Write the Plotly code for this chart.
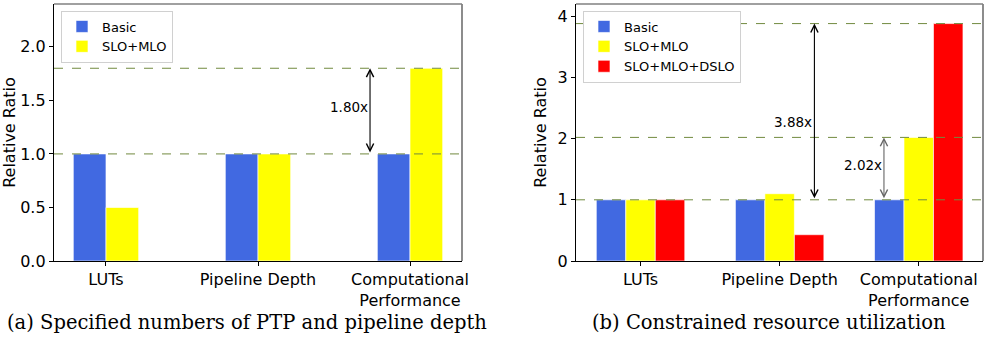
import plotly.graph_objects as go

# ---------------- data ----------------
categories = ["LUTs", "Pipeline Depth", "Computational<br>Performance"]

a_basic = [1.0, 1.0, 1.0]
a_slo_mlo = [0.5, 1.0, 1.8]

b_basic = [1.0, 1.0, 1.0]
b_slo_mlo = [1.0, 1.1, 2.02]
b_slo_mlo_dslo = [1.0, 0.43, 3.88]

a_ticks = [0.0, 0.5, 1.0, 1.5, 2.0]
b_ticks = [0, 1, 2, 3, 4]

caption_a = "(a) Specified numbers of PTP and pipeline depth"
caption_b = "(b) Constrained resource utilization"

# ---------------- style ----------------
BLUE = "#4169E1"
YELLOW = "#FFFF00"
RED = "#FF0000"
DASH = "#718a3f"
FONT = "DejaVu Sans"
edge = dict(color="rgba(255,255,255,0.8)", width=0.8)

fig = go.Figure()

wa = 0.215
fig.add_trace(go.Bar(x=categories, y=a_basic, name="Basic", marker=dict(color=BLUE, line=edge),
                     width=wa, offset=-wa, xaxis="x", yaxis="y", legend="legend"))
fig.add_trace(go.Bar(x=categories, y=a_slo_mlo, name="SLO+MLO", marker=dict(color=YELLOW, line=edge),
                     width=wa, offset=0, xaxis="x", yaxis="y", legend="legend"))

wb = 0.212
fig.add_trace(go.Bar(x=categories, y=b_basic, name="Basic", marker=dict(color=BLUE, line=edge),
                     width=wb, offset=-1.5 * wb, xaxis="x2", yaxis="y2", legend="legend2"))
fig.add_trace(go.Bar(x=categories, y=b_slo_mlo, name="SLO+MLO", marker=dict(color=YELLOW, line=edge),
                     width=wb, offset=-0.5 * wb, xaxis="x2", yaxis="y2", legend="legend2"))
fig.add_trace(go.Bar(x=categories, y=b_slo_mlo_dslo, name="SLO+MLO+DSLO", marker=dict(color=RED, line=edge),
                     width=wb, offset=0.5 * wb, xaxis="x2", yaxis="y2", legend="legend2"))

shapes = []
annotations = []

# dashed reference lines
for yv in [a_basic[2], a_slo_mlo[2]]:
    shapes.append(dict(type="line", xref="x domain", yref="y", x0=0, x1=1, y0=yv, y1=yv,
                       line=dict(color=DASH, width=1, dash="dash"), layer="above"))
for yv in [b_basic[2], b_slo_mlo[2], b_slo_mlo_dslo[2]]:
    shapes.append(dict(type="line", xref="x2 domain", yref="y2", x0=0, x1=1, y0=yv, y1=yv,
                       line=dict(color=DASH, width=1, dash="dash"), layer="above"))

# top/right spines (gray)
for xr, yr in [("x domain", "y domain"), ("x2 domain", "y2 domain")]:
    shapes.append(dict(type="line", xref=xr, yref=yr, x0=0, x1=1, y0=1, y1=1,
                       line=dict(color="#808080", width=1.5)))
    shapes.append(dict(type="line", xref=xr, yref=yr, x0=1, x1=1, y0=0, y1=1,
                       line=dict(color="#808080", width=1.8)))

# arrows
def arrow(xref, yref, x, y0, y1, color):
    return dict(xref=xref, yref=yref, axref=xref, ayref=yref, x=x, y=y1, ax=x, ay=y0,
                showarrow=True, arrowhead=5, startarrowhead=5, arrowside="end+start",
                arrowsize=1.3, startarrowsize=1.3, arrowwidth=1.1, arrowcolor=color,
                standoff=0, startstandoff=0, text="")

ann_font = dict(family=FONT, size=13.5, color="black")
annotations.append(arrow("x", "y", 1.737, a_basic[2], a_slo_mlo[2], "black"))
annotations.append(dict(xref="x", yref="y", x=1.737, y=1.44, text="1.80x", showarrow=False,
                        xanchor="right", yanchor="middle", font=ann_font))

annotations.append(arrow("x2", "y2", 1.25, b_basic[2], b_slo_mlo_dslo[2], "black"))
annotations.append(dict(xref="x2", yref="y2", x=1.25, y=2.27, text="3.88x", showarrow=False,
                        xanchor="right", yanchor="middle", font=ann_font))
annotations.append(arrow("x2", "y2", 1.75, b_basic[2], b_slo_mlo[2], "#666666"))
annotations.append(dict(xref="x2", yref="y2", x=1.75, y=1.57, text="2.02x", showarrow=False,
                        xanchor="right", yanchor="middle", font=ann_font))

# captions
cap_font = dict(family="DejaVu Serif", size=19.5, color="black")
annotations.append(dict(xref="paper", yref="paper", x=0.25, y=0.053, text=caption_a, showarrow=False,
                        xanchor="center", yanchor="middle", font=cap_font))
annotations.append(dict(xref="paper", yref="paper", x=0.779, y=0.053, text=caption_b, showarrow=False,
                        xanchor="center", yanchor="middle", font=cap_font))

ydom = [1 - 261 / 341, 1 - 4 / 341]
axis_common = dict(showline=True, linecolor="black", linewidth=1.3, ticks="outside", ticklen=4,
                   tickcolor="black", tickfont=dict(family=FONT, size=16, color="black"),
                   showgrid=False, zeroline=False, automargin=False)

legend_common = dict(bgcolor="white", bordercolor="#d0d0d0", borderwidth=1,
                     font=dict(family=FONT, size=13, color="black"),
                     xanchor="left", yanchor="top", tracegroupgap=0)

title_font = dict(family=FONT, size=16, color="black")

fig.update_layout(
    width=987, height=341,
    margin=dict(l=0, r=0, t=0, b=0),
    paper_bgcolor="white", plot_bgcolor="white",
    barmode="overlay",
    shapes=shapes, annotations=annotations,
    xaxis=dict(domain=[54 / 987, 462 / 987], range=[-0.342, 2.342], anchor="y", **axis_common),
    yaxis=dict(domain=ydom, range=[0, 2.4], tickvals=a_ticks, tickformat=".1f", anchor="x",
               title=dict(text="Relative Ratio", font=title_font, standoff=6),
               **axis_common),
    xaxis2=dict(domain=[576 / 987, 983 / 987], range=[-0.464, 2.462], anchor="y2", **axis_common),
    yaxis2=dict(domain=ydom, range=[0, 4.2], tickvals=b_ticks, anchor="x2",
                title=dict(text="Relative Ratio", font=title_font, standoff=6),
                **axis_common),
    legend=dict(x=61 / 987, y=1 - 10.5 / 341, **legend_common),
    legend2=dict(x=583 / 987, y=1 - 10.5 / 341, **legend_common),
)

fig.write_html("out.html", config={"displayModeBar": False},
               post_script="document.body.style.margin='0';document.body.style.overflow='hidden';")
